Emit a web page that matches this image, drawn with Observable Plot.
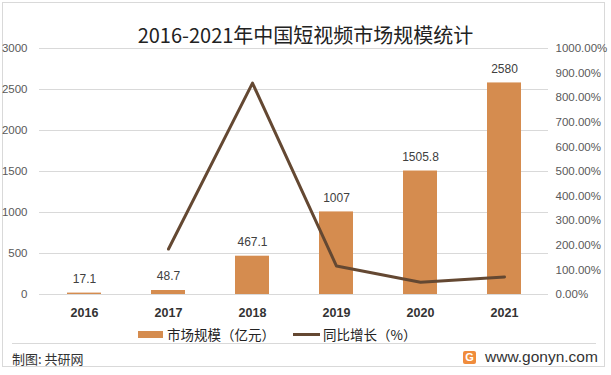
<!DOCTYPE html>
<html>
<head>
<meta charset="utf-8">
<script src="https://cdn.jsdelivr.net/npm/d3@7"></script>
<script src="https://cdn.jsdelivr.net/npm/@observablehq/plot@0.6"></script>
<style>
  html, body { margin: 0; padding: 0; background: #fff; }
  #wrap { position: relative; width: 611px; height: 375px; overflow: hidden; background: #fff; font-family: "Noto Sans CJK SC", "Liberation Sans", sans-serif; }
  #frame { position: absolute; left: 2px; top: 2px; width: 603px; height: 365px; border: 1px solid #d9d9d9; box-sizing: border-box; }
  #title { position: absolute; left: 0; width: 611px; top: 21px; text-align: center; font-size: 20px; line-height: 28px; color: #222; }
  #chart { position: absolute; left: 0; top: 0; }
  #legend { position: absolute; top: 324px; left: 0; width: 611px; height: 20px; font-size: 13.5px; color: #222; }
  .lg { position: absolute; top: 0; line-height: 20px; display: flex; align-items: center; }
  .sw-bar { width: 25px; height: 7px; background: #D58C4F; margin-right: 4px; }
  .sw-line { width: 27px; height: 3px; background: #644832; margin-right: 3px; }
  #sep { position: absolute; left: 12px; width: 584px; top: 343px; height: 1px; background: #d9d9d9; }
  #footer { position: absolute; left: 12px; top: 349px; font-size: 13px; line-height: 20px; color: #333; }
  #site { position: absolute; left: 463px; top: 348px; display: flex; align-items: center; font-family: "Liberation Sans", sans-serif; font-size: 15.5px; color: #333; }
  .logo { width: 13px; height: 13px; background: #F08C3C; border-radius: 2px; color: #fff; font-size: 11px; font-weight: bold; line-height: 13px; text-align: center; margin-right: 9px; }
</style>
</head>
<body>
<div id="wrap">
  <div id="frame"></div>
  <div id="chart"></div>
  <div id="title">2016-2021年中国短视频市场规模统计</div>
  <div id="legend"></div>
  <div id="sep"></div>
  <div id="footer">制图: 共研网</div>
  <div id="site"><div class="logo">G</div>www.gonyn.com</div>
</div>
<script>
const years = ["2016", "2017", "2018", "2019", "2020", "2021"];
const marketSize = [17.1, 48.7, 467.1, 1007, 1505.8, 2580];
const growthYears = ["2017", "2018", "2019", "2020", "2021"];
const growthPct = [184.8, 859.1, 115.6, 49.5, 71.3];
const leftTicks = [0, 500, 1000, 1500, 2000, 2500, 3000];
const rightTicks = [0, 100, 200, 300, 400, 500, 600, 700, 800, 900, 1000];
const barLabels = ["17.1", "48.7", "467.1", "1007", "1505.8", "2580"];

const ratio = 3000 / 1000; // right axis 1000% aligns with left 3000

const bars = years.map((y, i) => ({year: y, value: marketSize[i], label: barLabels[i]}));
const growth = growthYears.map((y, i) => ({year: y, pct: growthPct[i], yv: growthPct[i] * ratio}));

const chart = Plot.plot({
  width: 611,
  height: 325,
  marginTop: 48,
  marginBottom: 31,
  marginLeft: 39,
  marginRight: 63,
  style: {fontFamily: "Liberation Sans, sans-serif", fontSize: "11.5px", color: "#595959", background: "transparent"},
  x: {type: "band", domain: years, paddingInner: 0.6, paddingOuter: 0.3, label: null},
  y: {domain: [0, 3000], label: null},
  marks: [
    Plot.ruleY(leftTicks, {stroke: "#d9d9d9", strokeWidth: 1}),
    Plot.barY(bars, {x: "year", y: "value", fill: "#D58C4F"}),
    Plot.text(bars, {x: "year", y: "value", text: "label", dy: -14, fill: "#404040", fontSize: 12}),
    Plot.line(growth, {x: "year", y: "yv", stroke: "#644832", strokeWidth: 3, strokeLinejoin: "round"}),
    Plot.axisY({anchor: "left", ticks: leftTicks, tickSize: 0, tickPadding: 12, tickFormat: d => String(d), fill: "#595959", label: null}),
    Plot.axisY({anchor: "right", ticks: rightTicks.map(t => t * ratio), tickSize: 0, tickPadding: 7, tickFormat: d => (d / ratio).toFixed(2) + "%", fill: "#595959", label: null}),
    Plot.axisX({tickSize: 0, tickPadding: 14, fill: "#333", fontSize: 12.5, fontWeight: "bold", label: null})
  ]
});
document.getElementById("chart").appendChild(chart);

const legend = document.getElementById("legend");
const items = [
  {left: 138, cls: "sw-bar", text: "市场规模（亿元）"},
  {left: 293, cls: "sw-line", text: "同比增长（%）"}
];
items.forEach(it => {
  const d = document.createElement("div");
  d.className = "lg";
  d.style.left = it.left + "px";
  const s = document.createElement("div");
  s.className = it.cls;
  d.appendChild(s);
  d.appendChild(document.createTextNode(it.text));
  legend.appendChild(d);
});
</script>
</body>
</html>
